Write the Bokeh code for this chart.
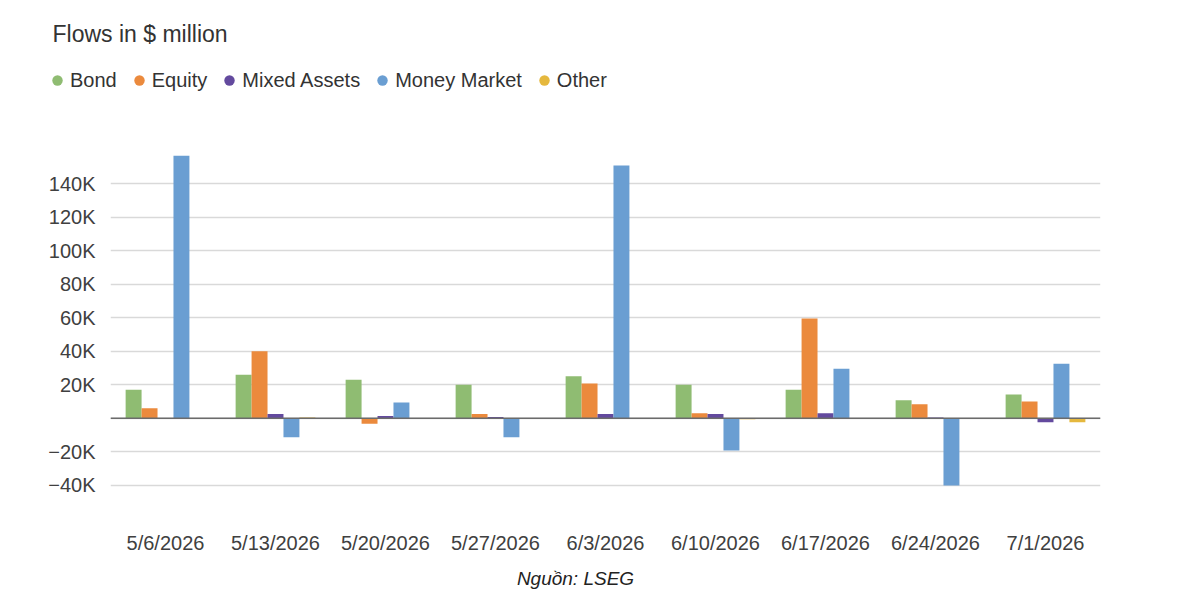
import math
from bokeh.plotting import figure
from bokeh.models import (ColumnDataSource, FactorRange, FixedTicker, Span, Label,
                          Legend, LegendItem)
from bokeh.transform import dodge
from bokeh.embed import file_html
from bokeh.resources import INLINE

weeks = ["5/6/2026", "5/13/2026", "5/20/2026", "5/27/2026", "6/3/2026",
         "6/10/2026", "6/17/2026", "6/24/2026", "7/1/2026"]
bond = [17000, 26000, 23000, 20000, 25000, 20000, 17000, 10700, 14100]
equity = [6000, 40000, -3300, 2600, 20700, 3000, 59500, 8400, 10000]
mixed = [-500, 2600, 1400, 800, 2600, 2600, 3000, 500, -2400]
money_market = [156700, -11300, 9400, -11300, 150900, -19300, 29500, -40200, 32500]
other = [0, 500, 0, 0, 0, -600, -500, 0, -2400]

tick_values = [-40000, -20000, 0, 20000, 40000, 60000, 80000, 100000, 120000, 140000]
tick_labels = ["\u221240K", "\u221220K", "", "20K", "40K", "60K", "80K", "100K", "120K", "140K"]

series_names = ["Bond", "Equity", "Mixed Assets", "Money Market", "Other"]
series_colors = ["#8FBC72", "#EB8A3D", "#634A9E", "#6A9ED2", "#E5B83E"]

title_text = "Flows in $ million"
source_text = "Nguồn: LSEG"

FONT = "Liberation Sans"
W = 1200


def blank_fig(h):
    # frame spans the whole canvas; data coords == canvas pixels
    f = figure(width=W, height=h, x_range=(0, W), y_range=(0, h),
               x_axis_type=None, y_axis_type=None, output_backend="svg",
               toolbar_location=None, min_border=0, outline_line_color=None)
    f.xgrid.visible = False
    f.ygrid.visible = False
    return f


# ---- header: title + legend
HEAD_H = 145
head = blank_fig(HEAD_H)
head.add_layout(Label(x=52, y=HEAD_H - 33, text=title_text, text_font=FONT,
                      text_font_size="23px", text_color="#333333",
                      text_baseline="middle"))
nan_src = ColumnDataSource(data=dict(x=[math.nan], y=[math.nan]))
items = []
for name, color in zip(series_names, series_colors):
    r = head.scatter(x="x", y="y", source=nan_src, marker="circle", size=11,
                     fill_color=color, line_color=None)
    items.append(LegendItem(label=name, renderers=[r], index=0))
legend = Legend(items=items, orientation="horizontal",
                location=(44, HEAD_H - 93),
                label_text_font=FONT, label_text_font_size="20px",
                label_text_color="#333333", glyph_width=26, glyph_height=26,
                label_height=20, label_standoff=-1, spacing=9, padding=0, margin=0,
                border_line_color=None, background_fill_alpha=0)
head.add_layout(legend, "center")

# ---- main chart
source = ColumnDataSource(data=dict(week=weeks, bond=bond, equity=equity, mixed=mixed,
                                    mm=money_market, other=other))
cols = ["bond", "equity", "mixed", "mm", "other"]

p = figure(x_range=FactorRange(*weeks), y_range=(-49100, 162800),
           width=W, height=418, output_backend="svg", toolbar_location=None,
           min_border_left=110, min_border_right=100, min_border_top=0,
           min_border_bottom=63, outline_line_color=None)

bw = 0.145
offsets = [-2 * bw, -bw, 0, bw, 2 * bw]
for col, off, color in zip(cols, offsets, series_colors):
    p.vbar(x=dodge("week", off, range=p.x_range), top=col, width=bw, source=source,
           fill_color=color, line_color=None)

p.add_layout(Span(location=0, dimension="width", line_color="#6b6b6b", line_width=1.5))

p.yaxis.ticker = FixedTicker(ticks=tick_values)
p.yaxis.major_label_overrides = {v: l for v, l in zip(tick_values, tick_labels)}
for ax in (p.xaxis[0], p.yaxis[0]):
    ax.axis_line_color = None
    ax.major_tick_line_color = None
    ax.minor_tick_line_color = None
    ax.major_label_text_font = FONT
    ax.major_label_text_font_size = "20px"
    ax.major_label_text_color = "#404040"
p.yaxis.major_label_standoff = 9
p.xaxis.major_label_standoff = 25
p.xgrid.grid_line_color = None
p.ygrid.grid_line_color = "#d9d9d9"
p.ygrid.grid_line_width = 1.5

# ---- footer: source
FOOT_H = 45
foot = blank_fig(FOOT_H)
foot.add_layout(Label(x=575, y=FOOT_H - 15, text=source_text, text_font=FONT,
                      text_font_size="19px", text_font_style="italic",
                      text_color="#222222", text_align="center",
                      text_baseline="middle"))

# separate roots so the header/footer frames are not aligned to the chart frame
open("out.html", "w").write(file_html([head, p, foot], INLINE))
